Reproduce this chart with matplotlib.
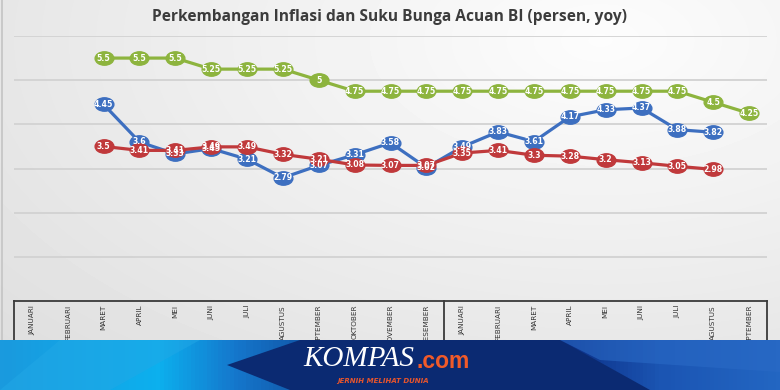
import numpy as np
import matplotlib.pyplot as plt
from matplotlib.path import Path
from matplotlib.patches import Polygon
from matplotlib.transforms import Affine2D
from matplotlib.colors import LinearSegmentedColormap

# ── data ─────────────────────────────────────
months = ["JANUARI", "FEBRUARI", "MARET", "APRIL", "MEI", "JUNI", "JULI",
          "AGUSTUS", "SEPTEMBER", "OKTOBER", "NOVEMBER", "DESEMBER",
          "JANUARI", "FEBRUARI", "MARET", "APRIL", "MEI", "JUNI", "JULI",
          "AGUSTUS", "SEPTEMBER"]

# series start at MARET 2016 (index 2)
suku_bunga = [5.5, 5.5, 5.5, 5.25, 5.25, 5.25, 5, 4.75, 4.75, 4.75, 4.75,
              4.75, 4.75, 4.75, 4.75, 4.75, 4.75, 4.5, 4.25]
inflasi = [4.45, 3.6, 3.33, 3.45, 3.21, 2.79, 3.07, 3.31, 3.58, 3.02, 3.49,
           3.83, 3.61, 4.17, 4.33, 4.37, 3.88, 3.82]
inti = [3.5, 3.41, 3.41, 3.49, 3.49, 3.32, 3.21, 3.08, 3.07, 3.07, 3.35,
        3.41, 3.3, 3.28, 3.2, 3.13, 3.05, 2.98]

GREEN = "#8db43e"
BLUE = "#3d6fc0"
RED = "#c0393b"

W, H = 780, 390
fig = plt.figure(figsize=(W / 100, H / 100), dpi=100)

# ── background gradient ──────────────────────
bg = fig.add_axes([0, 0, 1, 1])
yy, xx = np.mgrid[0:H, 0:W]
d = np.sqrt(((xx - 600) / 700.0) ** 2 + ((yy - 40) / 380.0) ** 2)
shade = np.clip(0.99 - 0.10 * d, 0.87, 0.99)
bg.imshow(shade, cmap="gray", vmin=0, vmax=1, extent=[0, W, H, 0], aspect="auto")
bg.axvline(1.5, color="#c4c4c4", lw=1.2)
bg.set_xlim(0, W)
bg.set_ylim(H, 0)
bg.axis("off")

# ── main chart ───────────────────────────────
ax = fig.add_axes([14 / W, 1 - 301 / H, 753 / W, 265 / H])
ax.patch.set_alpha(0)
ax.set_xlim(-0.5, len(months) - 0.5)
ax.set_ylim(0, 6)
for v in range(1, 7):
    ax.axhline(v, color="#d2d2d2", lw=1.3, zorder=1)
for s in ax.spines.values():
    s.set_visible(False)
ax.set_xticks([])
ax.set_yticks([])

ell = Path.unit_circle().transformed(Affine2D().scale(1.4, 1.0))


def draw(vals, color, start=2):
    x = np.arange(start, start + len(vals))
    ax.plot(x, vals, color=color, lw=2.3, marker=ell, ms=13.5,
            mfc=color, mec=color, zorder=3)
    for xi, v in zip(x, vals):
        ax.text(xi, v, f"{v:g}", color="white", fontsize=5.6,
                fontweight="bold", ha="center", va="center", zorder=4)


draw(suku_bunga, GREEN)
draw(inflasi, BLUE)
draw(inti, RED)

# category table
kw = dict(color="#3a3a3a", lw=1.3, clip_on=False, zorder=2)
ax.plot([-0.5, 20.5], [0, 0], **kw)
for xv in [-0.5, 11.5, 20.5]:
    ax.plot([xv, xv], [0, -1.2], **kw)
for i, m in enumerate(months):
    ax.text(i, -0.09, m, rotation=90, ha="center", va="top", fontsize=5.2,
            family="Liberation Sans Narrow", color="#333333", clip_on=False)

fig.text(0.5, 1 - 17 / H, "Perkembangan Inflasi dan Suku Bunga Acuan BI (persen, yoy)",
         ha="center", va="center", fontsize=11.2, fontweight="bold",
         family="Open Sans", color="#3c3c3c")

# ── KOMPAS banner ────────────────────────────
ban = fig.add_axes([0, 0, 1, 50 / H], zorder=5)
ban.set_xlim(0, W)
ban.set_ylim(H, 340)
cmap = LinearSegmentedColormap.from_list("kb", [
    (0.0, "#1a9ade"), (0.2, "#0cb0ee"), (0.3, "#1577cc"), (0.5, "#0c2f7c"),
    (0.72, "#0b2c82"), (0.85, "#1b55b3"), (1.0, "#2366c2")])
grad = np.tile(np.linspace(0, 1, 200), (10, 1))
ban.imshow(grad, cmap=cmap, extent=[0, W, H, 340], aspect="auto")
ban.add_patch(Polygon([(227, 365), (300, 340), (560, 340), (650, 390), (290, 390)],
                      closed=True, color="#0b2a72", lw=0))
ban.add_patch(Polygon([(0, 390), (60, 340), (200, 340), (110, 390)],
                      closed=True, color="#22a8e6", alpha=0.5, lw=0))
ban.add_patch(Polygon([(560, 340), (780, 340), (780, 372), (600, 360)],
                      closed=True, color="#2a6ac6", alpha=0.6, lw=0))
ban.text(303, 359, "KOMPAS", color="white", fontsize=21, family="Liberation Serif",
         style="italic", ha="left", va="center")
ban.text(416, 361, ".com", color="#f15a29", fontsize=16.5, fontweight="bold",
         family="Liberation Sans", ha="left", va="center")
ban.text(383, 381, "JERNIH MELIHAT DUNIA", color="#e8552c", fontsize=5,
         fontweight="bold", style="italic", ha="center", va="center")
ban.axis("off")

fig.savefig("out.png", dpi=100)
